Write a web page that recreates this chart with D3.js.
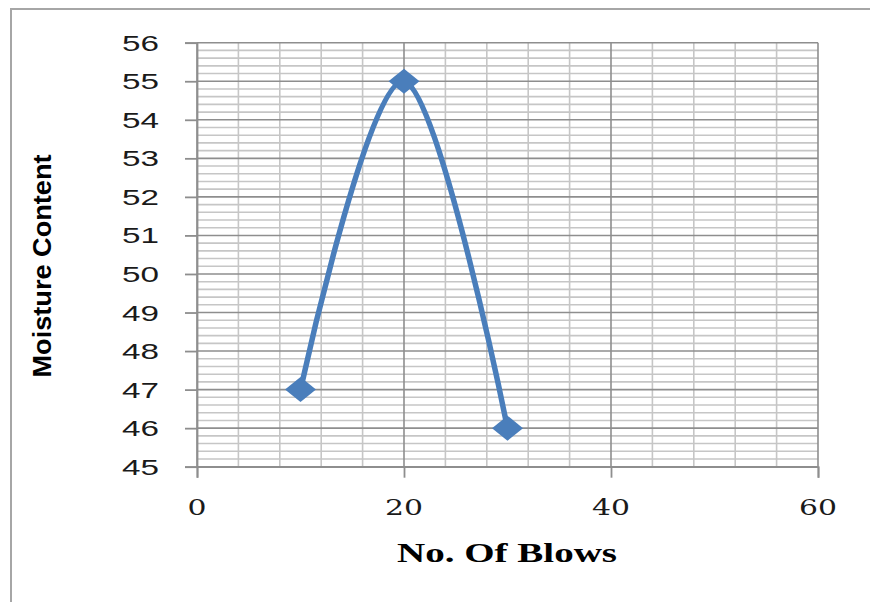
<!DOCTYPE html>
<html>
<head>
<meta charset="utf-8">
<script src="https://cdn.jsdelivr.net/npm/d3@7"></script>
<style>
  html, body { margin: 0; padding: 0; background: #fff; }
  svg { display: block; }
</style>
</head>
<body>
<svg id="chart" width="870" height="602"></svg>
<script>
// Liquid limit test: moisture content against number of blows
const blows = [10, 20, 30];
const moisture = [47, 55, 46];
const xTicks = [0, 20, 40, 60];
const yTicks = [45, 46, 47, 48, 49, 50, 51, 52, 53, 54, 55, 56];
const xTitle = "No. Of Blows";
const yTitle = "Moisture Content";

const svg = d3.select("#chart");
const W = 870, H = 602;

const x = d3.scaleLinear().domain([0, 60]).range([197, 818]);
const y = d3.scaleLinear().domain([45, 56]).range([466.7, 42.7]);

const blue = "#4a7ebb";
const majorGrid = "#8e8e8e";
const minorGrid = "#c6c6c6";

// outer chart frame (top and left edges visible)
svg.append("line").attr("x1", 10).attr("x2", W).attr("y1", 9).attr("y2", 9)
  .attr("stroke", "#a6a6a6").attr("stroke-width", 2);
svg.append("line").attr("x1", 11).attr("x2", 11).attr("y1", 8).attr("y2", H)
  .attr("stroke", "#a6a6a6").attr("stroke-width", 2);

const grid = svg.append("g");

// minor horizontal gridlines every 0.2
const minorY = d3.range(45, 56.001, 0.2).filter(v => Math.abs(v - Math.round(v)) > 1e-6);
grid.selectAll("line.my").data(minorY).join("line")
  .attr("x1", x(0)).attr("x2", x(60))
  .attr("y1", d => y(d)).attr("y2", d => y(d))
  .attr("stroke", minorGrid).attr("stroke-width", 1.6);

// minor vertical gridlines every 4
const minorX = d3.range(0, 60.001, 4).filter(v => v % 20 !== 0);
grid.selectAll("line.mx").data(minorX).join("line")
  .attr("x1", d => x(d)).attr("x2", d => x(d))
  .attr("y1", y(45)).attr("y2", y(56))
  .attr("stroke", minorGrid).attr("stroke-width", 1.6);

// major gridlines
grid.selectAll("line.My").data(yTicks).join("line")
  .attr("x1", x(0)).attr("x2", x(60))
  .attr("y1", d => y(d)).attr("y2", d => y(d))
  .attr("stroke", majorGrid).attr("stroke-width", 1.6);
grid.selectAll("line.Mx").data(xTicks).join("line")
  .attr("x1", d => x(d)).attr("x2", d => x(d))
  .attr("y1", y(45)).attr("y2", y(56))
  .attr("stroke", majorGrid).attr("stroke-width", 1.6);

// axes
const yAxis = svg.append("g")
  .attr("transform", `translate(${x(0)},0)`)
  .call(d3.axisLeft(y).tickValues(yTicks).tickSize(12).tickFormat(""));
const xAxis = svg.append("g")
  .attr("transform", `translate(0,${y(45)})`)
  .call(d3.axisBottom(x).tickValues(xTicks).tickSize(11).tickFormat(""));
[yAxis, xAxis].forEach(a => {
  a.select(".domain").attr("stroke", majorGrid).attr("stroke-width", 1.8);
  a.selectAll(".tick line").attr("stroke", majorGrid).attr("stroke-width", 1.8);
});

// y tick labels
svg.append("g").selectAll("text").data(yTicks).join("text")
  .attr("x", 159).attr("y", d => y(d) + 8)
  .attr("text-anchor", "end")
  .attr("font-family", "'Liberation Sans', Arial, sans-serif")
  .attr("font-size", 22)
  .attr("fill", "#1a1a1a")
  .attr("textLength", 37).attr("lengthAdjust", "spacingAndGlyphs")
  .text(d => d);

// x tick labels
svg.append("g").selectAll("text").data(xTicks).join("text")
  .attr("x", d => x(d)).attr("y", 515)
  .attr("text-anchor", "middle")
  .attr("font-family", "'DejaVu Serif', serif")
  .attr("font-size", 23)
  .attr("fill", "#1a1a1a")
  .attr("textLength", d => String(d).length * 19).attr("lengthAdjust", "spacingAndGlyphs")
  .text(d => d);

// axis titles
svg.append("text")
  .attr("x", 507).attr("y", 562)
  .attr("text-anchor", "middle")
  .attr("font-family", "'Liberation Serif', 'Times New Roman', serif")
  .attr("font-weight", "bold")
  .attr("font-size", 28)
  .attr("fill", "#000")
  .attr("textLength", 220).attr("lengthAdjust", "spacingAndGlyphs")
  .text(xTitle);

svg.append("text")
  .attr("transform", "translate(51,266) rotate(-90)")
  .attr("text-anchor", "middle")
  .attr("font-family", "'Liberation Sans', Arial, sans-serif")
  .attr("font-weight", "bold")
  .attr("font-size", 26)
  .attr("fill", "#000")
  .attr("textLength", 223).attr("lengthAdjust", "spacingAndGlyphs")
  .text(yTitle);

// smoothed data line
const pts = blows.map((b, i) => [b, moisture[i]]);
svg.append("path")
  .datum(pts)
  .attr("fill", "none")
  .attr("stroke", blue)
  .attr("stroke-width", 5.5)
  .attr("stroke-linejoin", "round")
  .attr("d", d3.line().x(d => x(d[0])).y(d => y(d[1])).curve(d3.curveCardinal.tension(0)));

// diamond markers
svg.append("g").selectAll("path").data(pts).join("path")
  .attr("transform", d => `translate(${x(d[0])},${y(d[1])})`)
  .attr("d", "M0,-12.5L15.5,0L0,12.5L-15.5,0Z")
  .attr("fill", blue);
</script>
</body>
</html>
